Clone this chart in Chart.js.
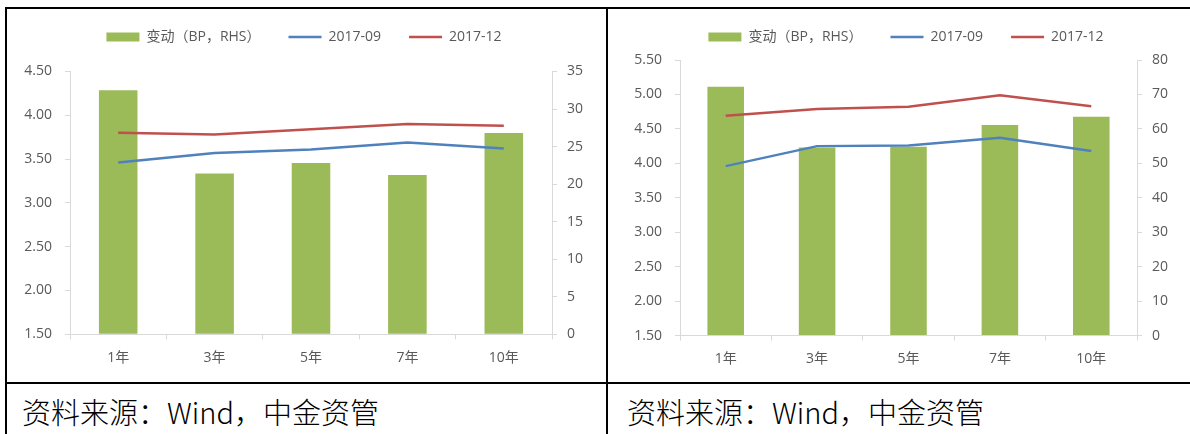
<!DOCTYPE html>
<html>
<head>
<meta charset="utf-8">
<script src="https://cdn.jsdelivr.net/npm/chart.js@4/dist/chart.umd.min.js"></script>
<style>
  html, body { margin: 0; padding: 0; background: #fff; }
  body { width: 1190px; height: 434px; position: relative; overflow: hidden; }
  .rule { position: absolute; background: #000; }
  .box { position: absolute; }
  .caption {
    position: absolute; top: 390px; font-size: 29px; color: #000; font-weight: 300;
    font-family: "Noto Sans CJK SC", sans-serif; white-space: nowrap;
  }
</style>
</head>
<body>
<div class="rule" style="left:5px;top:7px;width:1190px;height:2px"></div>
<div class="rule" style="left:5px;top:7px;width:2px;height:430px"></div>
<div class="rule" style="left:606px;top:7px;width:2px;height:430px"></div>
<div class="rule" style="left:5px;top:382px;width:1190px;height:2px"></div>

<div class="box" style="left:8px;top:2px;width:592px;height:380px"><canvas id="chartLeft"></canvas></div>
<div class="box" style="left:612px;top:2px;width:588px;height:380px"><canvas id="chartRight"></canvas></div>

<div class="caption" style="left:22px">资料来源：Wind，中金资管</div>
<div class="caption" style="left:627px">资料来源：Wind，中金资管</div>

<script>
const categories = ["1年", "3年", "5年", "7年", "10年"];
const seriesNames = ["变动（BP，RHS）", "2017-09", "2017-12"];

// left panel
const leftChange = [32.5, 21.4, 22.8, 21.2, 26.8];
const leftSep = [3.46, 3.57, 3.61, 3.69, 3.62];
const leftDec = [3.80, 3.78, 3.84, 3.90, 3.88];
const leftAxis = [1.5, 4.5, 0.5];
const leftRhs = [0, 35, 5];

// right panel
const rightChange = [72.2, 54.6, 54.8, 61.1, 63.5];
const rightSep = [3.96, 4.25, 4.26, 4.37, 4.18];
const rightDec = [4.69, 4.79, 4.82, 4.99, 4.83];
const rightAxis = [1.5, 5.5, 0.5];
const rightRhs = [0, 80, 10];

const GREEN = "#9bbb59";
const BLUE = "#4f81bd";
const RED = "#c0504d";
const AXIS = "#d9d9d9";
const TEXT = "#595959";
const FONT = "'Open Sans', 'Noto Sans CJK SC', sans-serif";

function makeChart(id, change, sep, dec, lhs, rhs, geo) {
	// pushes the plot area down below the legend
	const legendGap = {
		id: "legendGap",
		beforeLayout(chart) {
			const lg = chart.legend;
			if (lg && !lg._gapDone) {
				const fit = lg.fit;
				lg.fit = function () {
					fit.call(this);
					this.height += geo.gap;
				};
				lg._gapDone = true;
			}
		},
	};

	const data = {
		labels: categories,
		datasets: [
			{
				type: "bar",
				label: seriesNames[0],
				data: change,
				backgroundColor: GREEN,
				yAxisID: "y1",
				order: 1,
				barPercentage: 0.4,
				categoryPercentage: 1,
			},
			{
				type: "line",
				label: seriesNames[1],
				data: sep,
				borderColor: BLUE,
				borderWidth: 2.5,
				pointRadius: 0,
				tension: 0,
				yAxisID: "y",
				order: 0,
			},
			{
				type: "line",
				label: seriesNames[2],
				data: dec,
				borderColor: RED,
				borderWidth: 2.5,
				pointRadius: 0,
				tension: 0,
				yAxisID: "y",
				order: 0,
			},
		],
	};

	const config = {
		type: "bar",
		data: data,
		options: {
			responsive: true,
			maintainAspectRatio: false,
			animation: false,
			layout: { padding: 0 },
			plugins: {
				tooltip: { enabled: false },
				legend: {
					position: "top",
					labels: {
						usePointStyle: true,
						pointStyleWidth: 33,
						boxHeight: 9,
						padding: 28,
						color: TEXT,
						font: { family: FONT, size: 14 },
						sort: (a, b) => a.datasetIndex - b.datasetIndex,
						generateLabels(chart) {
							const items = Chart.defaults.plugins.legend.labels.generateLabels(chart);
							items.forEach((it) => {
								if (it.datasetIndex === 0) {
									it.pointStyle = "rect";
									it.fillStyle = GREEN;
									it.lineWidth = 0;
								} else {
									it.pointStyle = "line";
									it.strokeStyle = it.datasetIndex === 1 ? BLUE : RED;
									it.lineWidth = 2.5;
								}
							});
							return items;
						},
					},
				},
			},
			scales: {
				x: {
					offset: true,
					grid: {
						display: true,
						offset: true,
						drawOnChartArea: false,
						drawTicks: true,
						tickLength: 5,
						color: AXIS,
					},
					border: { color: AXIS },
					ticks: { color: TEXT, padding: 10, font: { family: FONT, size: 14 } },
					afterFit(scale) {
						scale.height = geo.xHeight;
					},
				},
				y: {
					position: "left",
					min: lhs[0],
					max: lhs[1],
					grid: { drawOnChartArea: false, tickLength: 5, color: AXIS },
					border: { color: AXIS },
					ticks: {
						stepSize: lhs[2],
						padding: 13,
						color: TEXT,
						font: { family: FONT, size: 14 },
						callback: (v) => v.toFixed(2),
					},
					afterFit(scale) {
						scale.width = geo.leftW;
					},
				},
				y1: {
					position: "right",
					min: rhs[0],
					max: rhs[1],
					grid: { drawOnChartArea: false, tickLength: 5, color: AXIS },
					border: { color: AXIS },
					ticks: {
						stepSize: rhs[2],
						padding: 10,
						color: TEXT,
						font: { family: FONT, size: 14 },
					},
					afterFit(scale) {
						scale.width = geo.rightW;
					},
				},
			},
		},
		plugins: [legendGap],
	};

	return new Chart(document.getElementById(id), config);
}

makeChart("chartLeft", leftChange, leftSep, leftDec, leftAxis, leftRhs, {
	gap: 17.5,
	xHeight: 47.7,
	leftW: 62,
	rightW: 48,
});
makeChart("chartRight", rightChange, rightSep, rightDec, rightAxis, rightRhs, {
	gap: 6,
	xHeight: 46.4,
	leftW: 68,
	rightW: 63,
});
</script>
</body>
</html>
